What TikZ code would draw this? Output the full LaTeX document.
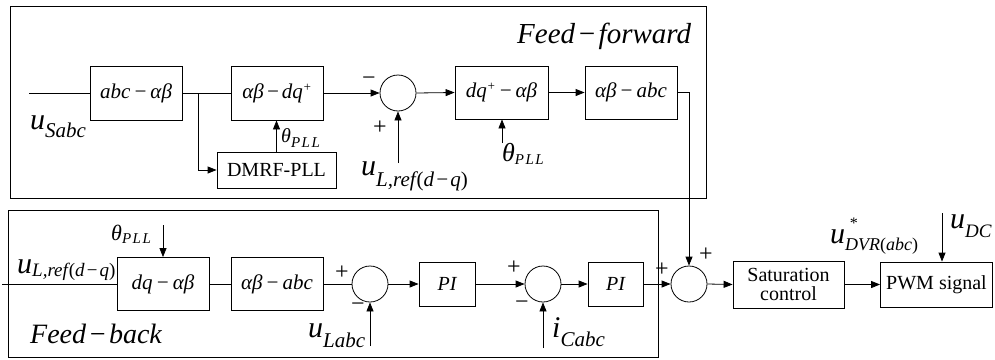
\documentclass[tikz,border=0pt]{standalone}
\usepackage{fontspec}
\setmainfont{Liberation Serif}
\usetikzlibrary{arrows.meta}
\newcommand{\bigsym}[2]{{\fontsize{#1pt}{#1pt}\selectfont\itshape #2}}
\newcommand{\lowsub}[3]{\raisebox{-#1pt}{\fontsize{#2pt}{#2pt}\selectfont\itshape #3}}
\newcommand{\fsz}[1]{\fontsize{#1pt}{#1pt}\selectfont}
\newcommand{\supplus}{\raisebox{7pt}{\fsz{13}+}}
\tikzset{
  ln/.style={line width=0.8pt},
  arr/.style={line width=0.8pt,-{Triangle[length=9pt,width=7pt]}},
  blk/.style={draw,line width=0.8pt,inner sep=0pt,font=\fsz{20}},
  sumc/.style={draw,circle,line width=0.8pt,minimum size=36pt,inner sep=0pt},
  sgn/.style={inner sep=0pt,font=\fsz{24}},
  lbl/.style={inner sep=0pt,anchor=base west},
  frm/.style={line width=0.9pt}
}
\begin{document}
\begin{tikzpicture}[x=1pt,y=-1pt]
\useasboundingbox (0,0) rectangle (995,359);
% frames
\draw[frm] (10,6) rectangle (706,198);
\draw[frm] (8,210) rectangle (658,357);
\node[lbl] (ff) at (517,43) {\bigsym{29}{Feed\kern2pt−\kern2pt forward}};
\node[lbl] (fb) at (30,343) {\bigsym{28}{Feed\kern2pt−\kern2pt back}};

% ---------- top row ----------
\node[blk,minimum width=92pt,minimum height=54pt,font=\fsz{21}] (b1) at (136,93) {\itshape abc\kern3pt−\kern3pt αβ};
\node[blk,minimum width=92pt,minimum height=54pt,font=\fsz{21}] (b2) at (277,93) {\itshape αβ\kern2pt−\kern2pt dq\supplus};
\node[blk,minimum width=119pt,minimum height=36pt] (pll) at (276.5,170) {DMRF-PLL};
\node[sumc] (s1) at (398,93) {};
\node[blk,minimum width=93pt,minimum height=53pt,font=\fsz{21}] (b3) at (501.5,92.5) {\itshape dq\supplus\kern3pt−\kern3pt αβ};
\node[blk,minimum width=92pt,minimum height=53pt,font=\fsz{21}] (b4) at (631,92.5) {\itshape αβ\kern3pt−\kern3pt abc};

\coordinate (in1) at (29,93);
\coordinate (br) at (198,93);
\coordinate (uref1) at (398,163);
\coordinate (th2) at (502,143);

\draw[ln] (in1) -- (b1.west);
\draw[ln] (b1.east) -- (b2.west);
\draw[arr] (br) |- (pll.west);
\draw[arr] (pll.north) -- (pll.north |- b2.south);
\draw[arr] (b2.east) -- (s1.west);
\draw[arr] (uref1) -- (s1.south);
\draw[arr] (s1.east) -- (b3.west);
\draw[arr] (th2) -- (th2 |- b3.south);
\draw[arr] (b3.east) -- (b4.west);

\node[lbl] (usabc) at (30,129) {\bigsym{30}{u}\lowsub{8}{21}{Sabc}};
\node[lbl] (th1) at (281,142) {\bigsym{20}{θ}\lowsub{5}{15}{P\kern1.5pt L\kern1.5pt L}};
\node[sgn] (m1) at (369,81) {−};
\node[sgn] (p1s) at (380,128) {+};
\node[lbl] (uref1l) at (361,175) {\bigsym{30}{u}\lowsub{11}{21}{L,ref\kern1pt{\upshape(}d\kern1pt−\kern1pt q{\upshape)}}};
\node[lbl] (th2l) at (502,161) {\bigsym{26}{θ}\lowsub{3}{15}{P\kern1.5pt L\kern1.5pt L}};

% ---------- bottom row ----------
\node[blk,minimum width=92pt,minimum height=53pt,font=\fsz{21}] (c1) at (163,284) {\itshape dq\kern3pt−\kern3pt αβ};
\node[blk,minimum width=92pt,minimum height=53pt,font=\fsz{21}] (c2) at (277,284) {\itshape αβ\kern3pt−\kern3pt abc};
\node[sumc] (s2) at (370,284) {};
\node[blk,minimum width=56pt,minimum height=44pt] (pi1) at (447,284) {\itshape PI};
\node[sumc] (s3) at (543,284) {};
\node[blk,minimum width=55pt,minimum height=44pt] (pi2) at (615.5,284) {\itshape PI};
\node[sumc] (s4) at (689,284) {};
\node[blk,minimum width=111pt,minimum height=47pt,align=center] (sat) at (788.5,284.5) {Saturation\\[-1pt]control};
\node[blk,minimum width=112pt,minimum height=45pt] (pwm) at (936.5,284.5) {PWM signal};

\coordinate (in2) at (2,284);
\coordinate (th3) at (163,225);
\coordinate (ul) at (370,346);
\coordinate (ic) at (543,348);
\coordinate (udc) at (942,213);

\draw[ln] (in2) -- (c1.west);
\draw[arr] (th3) -- (c1.north);
\draw[ln] (c1.east) -- (c2.west);
\draw[ln] (c2.east) -- (s2.west);
\draw[arr] (ul) -- (s2.south);
\draw[arr] (s2.east) -- (pi1.west);
\draw[arr] (pi1.east) -- (s3.west);
\draw[arr] (ic) -- (s3.south);
\draw[arr] (s3.east) -- (pi2.west);
\draw[arr] (pi2.east) -- (s4.west);
\draw[arr] (b4.east) -| (s4.north);
\draw[arr] (s4.east) -- (sat.west);
\draw[arr] (sat.east) -- (pwm.west);
\draw[arr] (udc) -- (udc |- pwm.north);

\node[lbl] (uref2l) at (17,273) {\bigsym{30}{u}\lowsub{3}{19}{L,ref\kern1pt{\upshape(}d\kern1pt−\kern1pt q{\upshape)}}};
\node[lbl] (th3l) at (111,240) {\bigsym{22}{θ}\lowsub{3}{15}{P\kern1.5pt L\kern1.5pt L}};
\node[sgn] (p2a) at (342,273) {+};
\node[sgn] (m2) at (358,307) {−};
\node[lbl] (ulabc) at (308,337) {\bigsym{30}{u}\lowsub{10}{21}{Labc}};
\node[sgn] (p3a) at (514,268) {+};
\node[sgn] (m3) at (522,305) {−};
\node[lbl] (icabc) at (552,337) {\bigsym{30}{i}\lowsub{9}{21}{Cabc}};
\node[sgn] (p4a) at (662,270) {+};
\node[sgn] (p4b) at (706,255) {+};
\node[lbl] (udvr) at (830,243) {\bigsym{30}{u}\lowsub{7}{18}{\rlap{\raisebox{22pt}{\fsz{16}\kern4pt*}}DVR{\upshape(}abc{\upshape)}}};
\node[lbl] (udcl) at (950,228) {\bigsym{30}{u}\lowsub{9}{19}{DC}};
\end{tikzpicture}
\end{document}
